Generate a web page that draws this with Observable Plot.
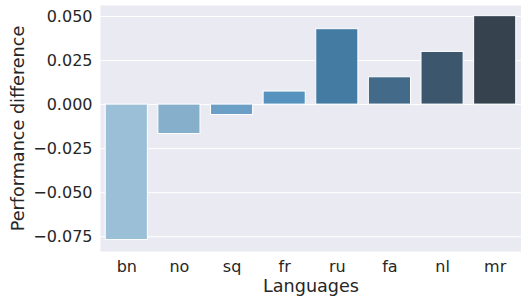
<!DOCTYPE html>
<html>
<head>
<meta charset="utf-8">
<script src="https://cdn.jsdelivr.net/npm/d3@7"></script>
<script src="https://cdn.jsdelivr.net/npm/@observablehq/plot@0.6"></script>
<style>
  html, body { margin: 0; padding: 0; background: #ffffff; }
</style>
</head>
<body>
<div id="chart"></div>
<script>
const languages = ["bn", "no", "sq", "fr", "ru", "fa", "nl", "mr"];
const differences = [-0.0769, -0.0167, -0.0059, 0.0074, 0.0428, 0.0155, 0.0299, 0.0502];
const barColors = ["#9abfd6", "#86afcb", "#6b9fc6", "#5593be", "#447ba3", "#436a89", "#3c566d", "#36434f"];
const yTicks = [-0.075, -0.05, -0.025, 0, 0.025, 0.05];
const xLabel = "Languages";
const yLabel = "Performance difference";

const data = languages.map((lang, i) => ({lang, value: differences[i]}));

const chart = Plot.plot({
  width: 521,
  height: 298,
  marginTop: 5,
  marginBottom: 47,
  marginLeft: 100,
  marginRight: 0,
  style: {fontFamily: "DejaVu Sans", fontSize: "16px", color: "#262626", background: "#ffffff"},
  x: {domain: languages, paddingInner: 0.2, paddingOuter: 0.1, round: false, label: null},
  y: {domain: [-0.0834, 0.05625], label: null},
  color: {type: "ordinal", domain: languages, range: barColors},
  marks: [
    Plot.frame({fill: "#eaeaf2", stroke: null}),
    Plot.gridY(yTicks, {stroke: "#ffffff", strokeOpacity: 1, strokeWidth: 1}),
    Plot.barY(data, {x: "lang", y: "value", fill: "lang", stroke: "#ffffff", strokeWidth: 1}),
    Plot.axisY(yTicks, {tickSize: 0, tickPadding: 8, tickFormat: d3.format(".3f"), label: null, fontSize: 16}),
    Plot.axisX({tickSize: 0, tickPadding: 9, label: null, fontSize: 16}),
    Plot.text([xLabel], {frameAnchor: "bottom", dy: 40, text: d => d, fontSize: 17.6, fill: "#262626", lineAnchor: "bottom"}),
    Plot.text([yLabel], {frameAnchor: "left", dx: -82, rotate: -90, text: d => d, fontSize: 17.6, fill: "#262626", textAnchor: "middle"})
  ]
});
document.getElementById("chart").appendChild(chart);
</script>
</body>
</html>
